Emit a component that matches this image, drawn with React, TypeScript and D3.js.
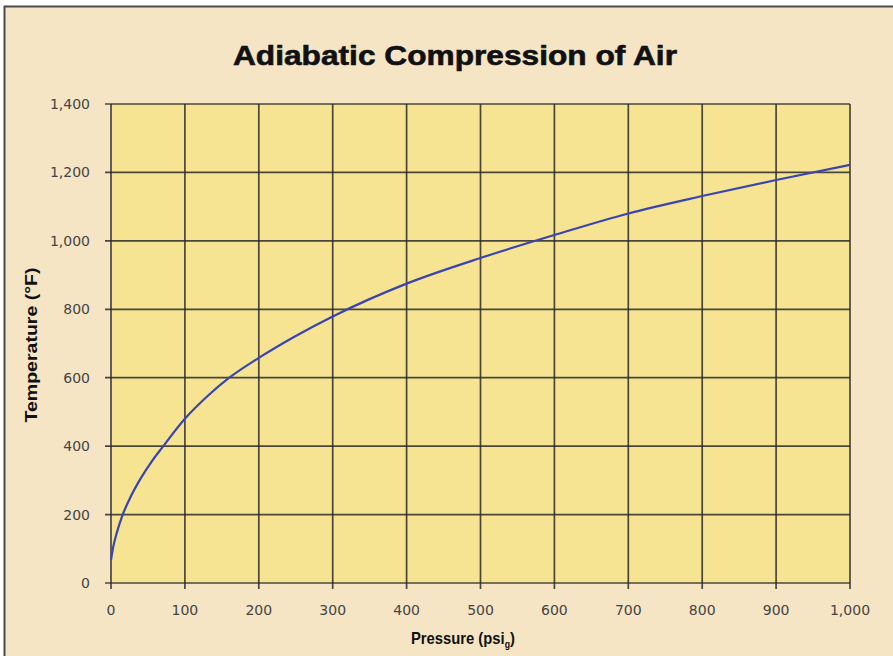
import React from "react";
import * as d3 from "d3";

const pressure = [0, 3, 8, 15, 25, 40, 55, 70, 100, 130, 160, 200, 250, 300, 400, 500, 600, 700, 800, 900, 1000];
const temperature = [67, 105, 148, 195, 245, 305, 355, 398, 480, 545, 600, 658, 722, 779, 875, 950, 1017, 1080, 1131, 1178, 1222];
const xTicks = [0, 100, 200, 300, 400, 500, 600, 700, 800, 900, 1000];
const yTicks = [0, 200, 400, 600, 800, 1000, 1200, 1400];

const W = 893;
const H = 656;
const M = { left: 111, right: 850, top: 104, bottom: 583 };

export default function App() {
  const x = d3.scaleLinear().domain([0, 1000]).range([M.left, M.right]);
  const y = d3.scaleLinear().domain([0, 1400]).range([M.bottom, M.top]);
  const fmt = d3.format(",");
  const pts = pressure.map((p, i) => [p, temperature[i]] as [number, number]);
  const line = d3
    .line<[number, number]>()
    .x((d) => x(d[0]))
    .y((d) => y(d[1]))
    .curve(d3.curveMonotoneX);

  const tickFont = "'DejaVu Sans', Verdana, sans-serif";
  const boldFont = "'Liberation Sans', Arial, sans-serif";

  return (
    <svg
      width={W}
      height={H}
      style={{ position: "absolute", left: 0, top: 0, display: "block" }}
    >
      <rect x={0} y={0} width={W} height={H} fill="#ffffff" />
      <rect x={5} y={7} width={W - 5} height={H - 7} fill="#F6E5C4" />
      <line x1={4} y1={6.5} x2={W} y2={6.5} stroke="#4a4a4a" strokeWidth={2} />
      <line x1={4.5} y1={6} x2={4.5} y2={H} stroke="#4a4a4a" strokeWidth={2} />

      <text
        x={455}
        y={65}
        textAnchor="middle"
        fontFamily={boldFont}
        fontWeight="bold"
        fontSize={27}
        fill="#111"
        stroke="#111"
        strokeWidth={0.6}
        textLength={444}
        lengthAdjust="spacingAndGlyphs"
      >
        Adiabatic Compression of Air
      </text>

      <rect
        x={M.left}
        y={M.top}
        width={M.right - M.left}
        height={M.bottom - M.top}
        fill="#F6E493"
      />

      {xTicks.map((t) => (
        <line
          key={"vx" + t}
          x1={x(t)}
          x2={x(t)}
          y1={M.top}
          y2={M.bottom + 6}
          stroke="#2a2a2a"
          strokeWidth={1.7}
          strokeOpacity={0.85}
        />
      ))}
      {yTicks.map((t) => (
        <line
          key={"hy" + t}
          x1={M.left - 6}
          x2={M.right}
          y1={y(t)}
          y2={y(t)}
          stroke="#2a2a2a"
          strokeWidth={1.7}
          strokeOpacity={0.85}
        />
      ))}

      <path d={line(pts) || ""} fill="none" stroke="#3A45AE" strokeWidth={2.2} />

      {yTicks.map((t) => (
        <text
          key={"yl" + t}
          x={90}
          y={y(t) + 5}
          textAnchor="end"
          fontFamily={tickFont}
          fontSize={14}
          fill="#444"
        >
          {fmt(t)}
        </text>
      ))}
      {xTicks.map((t) => (
        <text
          key={"xl" + t}
          x={x(t)}
          y={615}
          textAnchor="middle"
          fontFamily={tickFont}
          fontSize={14}
          fill="#444"
        >
          {fmt(t)}
        </text>
      ))}

      <text
        transform={`translate(37,345) rotate(-90)`}
        textAnchor="middle"
        fontFamily={boldFont}
        fontWeight="bold"
        fontSize={17}
        fill="#111"
        textLength={155}
        lengthAdjust="spacingAndGlyphs"
      >
        Temperature (°F)
      </text>

      <text
        transform="translate(411,644) scale(0.87,1)"
        fontFamily={boldFont}
        fontWeight="bold"
        fontSize={17}
        fill="#111"
      >
        Pressure (psi
        <tspan fontSize={10} dy={4}>g</tspan>
        <tspan dy={-4}>)</tspan>
      </text>
    </svg>
  );
}
